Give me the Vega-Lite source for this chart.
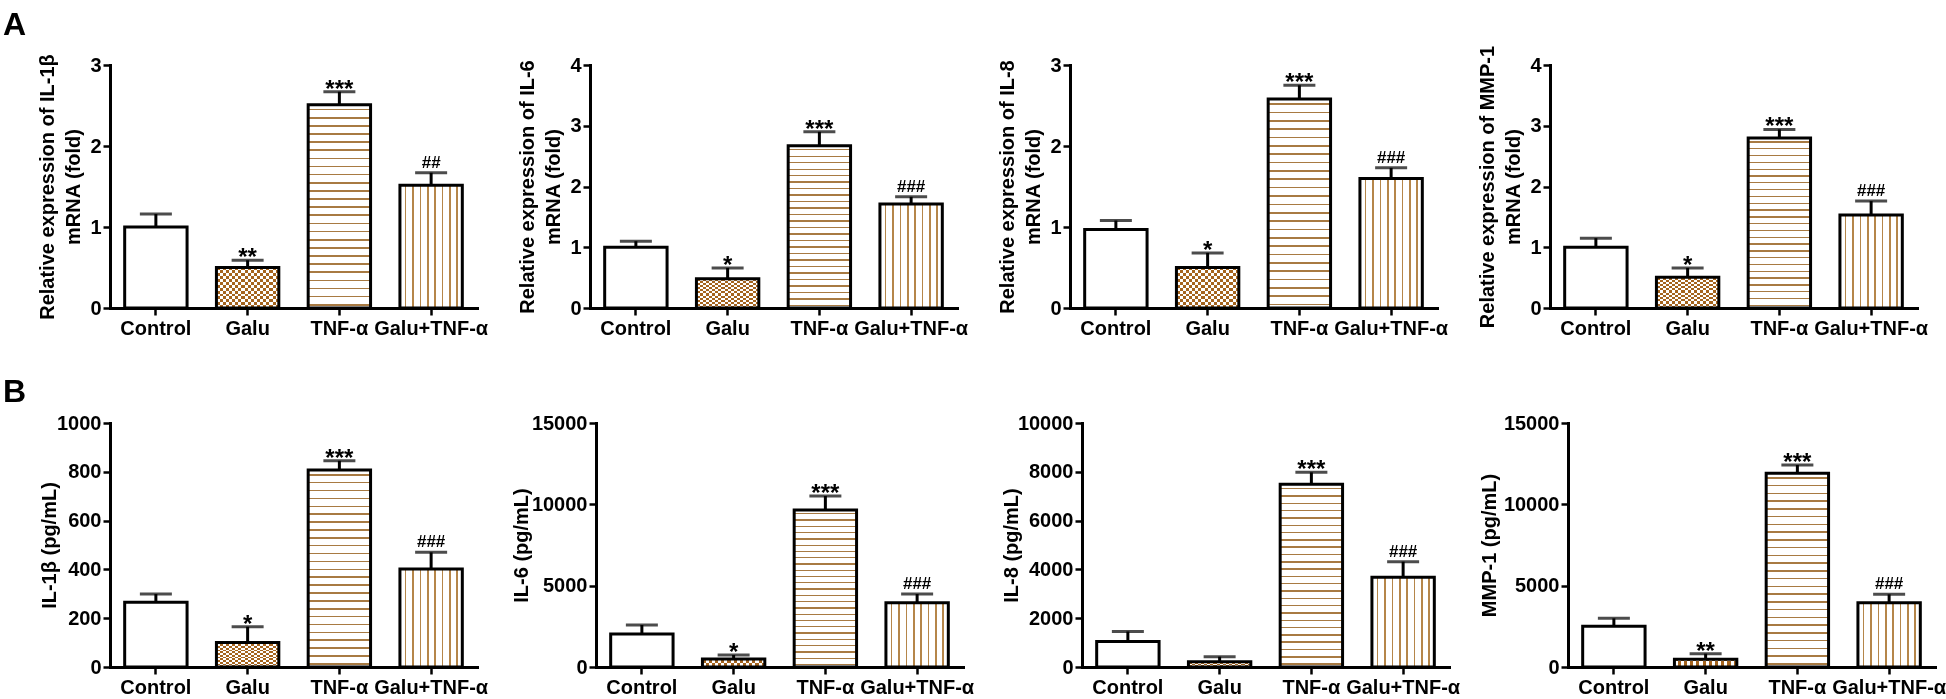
{
"$schema": "https://vega.github.io/schema/vega-lite/v6.json",
"padding": {"left": 3, "top": 8, "right": 0, "bottom": 0},
"background": "white",
"data": {"values": [
{"panel":"A1","group":"Control","mean":1.0,"upper":1.16,"sig":""},
{"panel":"A1","group":"Galu","mean":0.5,"upper":0.59,"sig":"**"},
{"panel":"A1","group":"TNF-α","mean":2.51,"upper":2.67,"sig":"***"},
{"panel":"A1","group":"Galu+TNF-α","mean":1.515,"upper":1.67,"sig":"##"},
{"panel":"A2","group":"Control","mean":1.0,"upper":1.1,"sig":""},
{"panel":"A2","group":"Galu","mean":0.48,"upper":0.66,"sig":"*"},
{"panel":"A2","group":"TNF-α","mean":2.67,"upper":2.9,"sig":"***"},
{"panel":"A2","group":"Galu+TNF-α","mean":1.71,"upper":1.83,"sig":"###"},
{"panel":"A3","group":"Control","mean":0.97,"upper":1.08,"sig":""},
{"panel":"A3","group":"Galu","mean":0.5,"upper":0.68,"sig":"*"},
{"panel":"A3","group":"TNF-α","mean":2.58,"upper":2.75,"sig":"***"},
{"panel":"A3","group":"Galu+TNF-α","mean":1.6,"upper":1.73,"sig":"###"},
{"panel":"A4","group":"Control","mean":1.0,"upper":1.15,"sig":""},
{"panel":"A4","group":"Galu","mean":0.505,"upper":0.66,"sig":"*"},
{"panel":"A4","group":"TNF-α","mean":2.8,"upper":2.94,"sig":"***"},
{"panel":"A4","group":"Galu+TNF-α","mean":1.53,"upper":1.76,"sig":"###"},
{"panel":"B1","group":"Control","mean":265,"upper":299,"sig":""},
{"panel":"B1","group":"Galu","mean":100,"upper":165,"sig":"*"},
{"panel":"B1","group":"TNF-α","mean":807,"upper":845,"sig":"***"},
{"panel":"B1","group":"Galu+TNF-α","mean":402,"upper":470,"sig":"###"},
{"panel":"B2","group":"Control","mean":2029,"upper":2582,"sig":""},
{"panel":"B2","group":"Galu","mean":492,"upper":738,"sig":"*"},
{"panel":"B2","group":"TNF-α","mean":9652,"upper":10512,"sig":"***"},
{"panel":"B2","group":"Galu+TNF-α","mean":3955,"upper":4488,"sig":"###"},
{"panel":"B3","group":"Control","mean":1045,"upper":1455,"sig":""},
{"panel":"B3","group":"Galu","mean":218,"upper":423,"sig":""},
{"panel":"B3","group":"TNF-α","mean":7486,"upper":7978,"sig":"***"},
{"panel":"B3","group":"Galu+TNF-α","mean":3674,"upper":4317,"sig":"###"},
{"panel":"B4","group":"Control","mean":2500,"upper":2992,"sig":""},
{"panel":"B4","group":"Galu","mean":473,"upper":819,"sig":"**"},
{"panel":"B4","group":"TNF-α","mean":11906,"upper":12416,"sig":"***"},
{"panel":"B4","group":"Galu+TNF-α","mean":3953,"upper":4469,"sig":"###"}
]},
"vconcat": [
{"bounds": "flush", "spacing": 113, "hconcat": [
{"width": 367, "height": 243,
 "title": {"text": "A", "anchor": "start", "frame": "group", "fontSize": 32, "fontWeight": "bold", "color": "black", "dx": -107, "offset": 12},
 "transform": [{"filter": "datum.panel === 'A1'"}],
 "encoding": {"x": {"field": "group", "type": "nominal", "title": null, "scale": {"domain": ["Control","Galu","TNF-α","Galu+TNF-α"], "paddingInner": 0.32, "paddingOuter": 0.16}, "axis": {"labelAngle": 0, "bandPosition": 0.5, "labelPadding": 3}},
  "y": {"field": "mean", "type": "quantitative", "scale": {"domain": [0, 3], "nice": false}, "axis": {"values": [0,1,2,3], "format": "d", "title": ["Relative expression of IL-1β", "mRNA (fold)"], "titlePadding": 6}}},
 "layer": [
  {"mark": {"type": "bar", "fill": "white"}},
  {"transform": [{"filter": "datum.group === 'TNF-α'"}], "mark": {"type": "bar", "style": "tnf"}},
  {"transform": [{"filter": "datum.group === 'Galu+TNF-α'"}], "mark": {"type": "bar", "style": "gt"}},
  {"transform": [{"filter": "datum.group === 'Galu'"}], "mark": {"type": "bar", "style": "chkH"}},
  {"transform": [{"filter": "datum.group === 'Galu'"}], "mark": {"type": "bar", "style": "chkV", "blend": "difference"}},
  {"transform": [{"filter": "datum.group === 'Galu'"}], "mark": {"type": "bar", "fill": "#A5641E", "blend": "lighten"}},
  {"mark": {"type": "bar", "fillOpacity": 0, "stroke": "black", "strokeWidth": 3}},
  {"mark": {"type": "rule", "strokeWidth": 3, "color": "black"}, "encoding": {"y2": {"field": "upper"}}},
  {"mark": {"type": "tick", "orient": "horizontal", "size": 32, "thickness": 3, "color": "black"}, "encoding": {"y": {"field": "upper", "type": "quantitative", "scale": {"domain": [0, 3], "nice": false}, "axis": {"values": [0,1,2,3], "format": "d", "title": ["Relative expression of IL-1β", "mRNA (fold)"], "titlePadding": 6}}}},
  {"transform": [{"filter": "indexof(datum.sig, '*') >= 0"}], "mark": {"type": "text", "baseline": "alphabetic", "dy": 5, "fontSize": 24, "fontWeight": "bold", "color": "black"}, "encoding": {"y": {"field": "upper", "type": "quantitative", "scale": {"domain": [0, 3], "nice": false}, "axis": {"values": [0,1,2,3], "format": "d", "title": ["Relative expression of IL-1β", "mRNA (fold)"], "titlePadding": 6}}, "text": {"field": "sig"}}},
  {"transform": [{"filter": "indexof(datum.sig, '#') >= 0"}], "mark": {"type": "text", "baseline": "alphabetic", "dy": -5, "fontSize": 17, "fontWeight": "bold", "color": "black"}, "encoding": {"y": {"field": "upper", "type": "quantitative", "scale": {"domain": [0, 3], "nice": false}, "axis": {"values": [0,1,2,3], "format": "d", "title": ["Relative expression of IL-1β", "mRNA (fold)"], "titlePadding": 6}}, "text": {"field": "sig"}}}
 ]},
{"width": 367, "height": 243,
 "transform": [{"filter": "datum.panel === 'A2'"}],
 "encoding": {"x": {"field": "group", "type": "nominal", "title": null, "scale": {"domain": ["Control","Galu","TNF-α","Galu+TNF-α"], "paddingInner": 0.32, "paddingOuter": 0.16}, "axis": {"labelAngle": 0, "bandPosition": 0.5, "labelPadding": 3}},
  "y": {"field": "mean", "type": "quantitative", "scale": {"domain": [0, 4], "nice": false}, "axis": {"values": [0,1,2,3,4], "format": "d", "title": ["Relative expression of IL-6", "mRNA (fold)"], "titlePadding": 6}}},
 "layer": [
  {"mark": {"type": "bar", "fill": "white"}},
  {"transform": [{"filter": "datum.group === 'TNF-α'"}], "mark": {"type": "bar", "style": "tnf"}},
  {"transform": [{"filter": "datum.group === 'Galu+TNF-α'"}], "mark": {"type": "bar", "style": "gt"}},
  {"transform": [{"filter": "datum.group === 'Galu'"}], "mark": {"type": "bar", "style": "chkH"}},
  {"transform": [{"filter": "datum.group === 'Galu'"}], "mark": {"type": "bar", "style": "chkV", "blend": "difference"}},
  {"transform": [{"filter": "datum.group === 'Galu'"}], "mark": {"type": "bar", "fill": "#A5641E", "blend": "lighten"}},
  {"mark": {"type": "bar", "fillOpacity": 0, "stroke": "black", "strokeWidth": 3}},
  {"mark": {"type": "rule", "strokeWidth": 3, "color": "black"}, "encoding": {"y2": {"field": "upper"}}},
  {"mark": {"type": "tick", "orient": "horizontal", "size": 32, "thickness": 3, "color": "black"}, "encoding": {"y": {"field": "upper", "type": "quantitative", "scale": {"domain": [0, 4], "nice": false}, "axis": {"values": [0,1,2,3,4], "format": "d", "title": ["Relative expression of IL-6", "mRNA (fold)"], "titlePadding": 6}}}},
  {"transform": [{"filter": "indexof(datum.sig, '*') >= 0"}], "mark": {"type": "text", "baseline": "alphabetic", "dy": 5, "fontSize": 24, "fontWeight": "bold", "color": "black"}, "encoding": {"y": {"field": "upper", "type": "quantitative", "scale": {"domain": [0, 4], "nice": false}, "axis": {"values": [0,1,2,3,4], "format": "d", "title": ["Relative expression of IL-6", "mRNA (fold)"], "titlePadding": 6}}, "text": {"field": "sig"}}},
  {"transform": [{"filter": "indexof(datum.sig, '#') >= 0"}], "mark": {"type": "text", "baseline": "alphabetic", "dy": -5, "fontSize": 17, "fontWeight": "bold", "color": "black"}, "encoding": {"y": {"field": "upper", "type": "quantitative", "scale": {"domain": [0, 4], "nice": false}, "axis": {"values": [0,1,2,3,4], "format": "d", "title": ["Relative expression of IL-6", "mRNA (fold)"], "titlePadding": 6}}, "text": {"field": "sig"}}}
 ]},
{"width": 367, "height": 243,
 "transform": [{"filter": "datum.panel === 'A3'"}],
 "encoding": {"x": {"field": "group", "type": "nominal", "title": null, "scale": {"domain": ["Control","Galu","TNF-α","Galu+TNF-α"], "paddingInner": 0.32, "paddingOuter": 0.16}, "axis": {"labelAngle": 0, "bandPosition": 0.5, "labelPadding": 3}},
  "y": {"field": "mean", "type": "quantitative", "scale": {"domain": [0, 3], "nice": false}, "axis": {"values": [0,1,2,3], "format": "d", "title": ["Relative expression of IL-8", "mRNA (fold)"], "titlePadding": 6}}},
 "layer": [
  {"mark": {"type": "bar", "fill": "white"}},
  {"transform": [{"filter": "datum.group === 'TNF-α'"}], "mark": {"type": "bar", "style": "tnf"}},
  {"transform": [{"filter": "datum.group === 'Galu+TNF-α'"}], "mark": {"type": "bar", "style": "gt"}},
  {"transform": [{"filter": "datum.group === 'Galu'"}], "mark": {"type": "bar", "style": "chkH"}},
  {"transform": [{"filter": "datum.group === 'Galu'"}], "mark": {"type": "bar", "style": "chkV", "blend": "difference"}},
  {"transform": [{"filter": "datum.group === 'Galu'"}], "mark": {"type": "bar", "fill": "#A5641E", "blend": "lighten"}},
  {"mark": {"type": "bar", "fillOpacity": 0, "stroke": "black", "strokeWidth": 3}},
  {"mark": {"type": "rule", "strokeWidth": 3, "color": "black"}, "encoding": {"y2": {"field": "upper"}}},
  {"mark": {"type": "tick", "orient": "horizontal", "size": 32, "thickness": 3, "color": "black"}, "encoding": {"y": {"field": "upper", "type": "quantitative", "scale": {"domain": [0, 3], "nice": false}, "axis": {"values": [0,1,2,3], "format": "d", "title": ["Relative expression of IL-8", "mRNA (fold)"], "titlePadding": 6}}}},
  {"transform": [{"filter": "indexof(datum.sig, '*') >= 0"}], "mark": {"type": "text", "baseline": "alphabetic", "dy": 5, "fontSize": 24, "fontWeight": "bold", "color": "black"}, "encoding": {"y": {"field": "upper", "type": "quantitative", "scale": {"domain": [0, 3], "nice": false}, "axis": {"values": [0,1,2,3], "format": "d", "title": ["Relative expression of IL-8", "mRNA (fold)"], "titlePadding": 6}}, "text": {"field": "sig"}}},
  {"transform": [{"filter": "indexof(datum.sig, '#') >= 0"}], "mark": {"type": "text", "baseline": "alphabetic", "dy": -5, "fontSize": 17, "fontWeight": "bold", "color": "black"}, "encoding": {"y": {"field": "upper", "type": "quantitative", "scale": {"domain": [0, 3], "nice": false}, "axis": {"values": [0,1,2,3], "format": "d", "title": ["Relative expression of IL-8", "mRNA (fold)"], "titlePadding": 6}}, "text": {"field": "sig"}}}
 ]},
{"width": 367, "height": 243,
 "transform": [{"filter": "datum.panel === 'A4'"}],
 "encoding": {"x": {"field": "group", "type": "nominal", "title": null, "scale": {"domain": ["Control","Galu","TNF-α","Galu+TNF-α"], "paddingInner": 0.32, "paddingOuter": 0.16}, "axis": {"labelAngle": 0, "bandPosition": 0.5, "labelPadding": 3}},
  "y": {"field": "mean", "type": "quantitative", "scale": {"domain": [0, 4], "nice": false}, "axis": {"values": [0,1,2,3,4], "format": "d", "title": ["Relative expression of MMP-1", "mRNA (fold)"], "titlePadding": 6}}},
 "layer": [
  {"mark": {"type": "bar", "fill": "white"}},
  {"transform": [{"filter": "datum.group === 'TNF-α'"}], "mark": {"type": "bar", "style": "tnf"}},
  {"transform": [{"filter": "datum.group === 'Galu+TNF-α'"}], "mark": {"type": "bar", "style": "gt"}},
  {"transform": [{"filter": "datum.group === 'Galu'"}], "mark": {"type": "bar", "style": "chkH"}},
  {"transform": [{"filter": "datum.group === 'Galu'"}], "mark": {"type": "bar", "style": "chkV", "blend": "difference"}},
  {"transform": [{"filter": "datum.group === 'Galu'"}], "mark": {"type": "bar", "fill": "#A5641E", "blend": "lighten"}},
  {"mark": {"type": "bar", "fillOpacity": 0, "stroke": "black", "strokeWidth": 3}},
  {"mark": {"type": "rule", "strokeWidth": 3, "color": "black"}, "encoding": {"y2": {"field": "upper"}}},
  {"mark": {"type": "tick", "orient": "horizontal", "size": 32, "thickness": 3, "color": "black"}, "encoding": {"y": {"field": "upper", "type": "quantitative", "scale": {"domain": [0, 4], "nice": false}, "axis": {"values": [0,1,2,3,4], "format": "d", "title": ["Relative expression of MMP-1", "mRNA (fold)"], "titlePadding": 6}}}},
  {"transform": [{"filter": "indexof(datum.sig, '*') >= 0"}], "mark": {"type": "text", "baseline": "alphabetic", "dy": 5, "fontSize": 24, "fontWeight": "bold", "color": "black"}, "encoding": {"y": {"field": "upper", "type": "quantitative", "scale": {"domain": [0, 4], "nice": false}, "axis": {"values": [0,1,2,3,4], "format": "d", "title": ["Relative expression of MMP-1", "mRNA (fold)"], "titlePadding": 6}}, "text": {"field": "sig"}}},
  {"transform": [{"filter": "indexof(datum.sig, '#') >= 0"}], "mark": {"type": "text", "baseline": "alphabetic", "dy": -5, "fontSize": 17, "fontWeight": "bold", "color": "black"}, "encoding": {"y": {"field": "upper", "type": "quantitative", "scale": {"domain": [0, 4], "nice": false}, "axis": {"values": [0,1,2,3,4], "format": "d", "title": ["Relative expression of MMP-1", "mRNA (fold)"], "titlePadding": 6}}, "text": {"field": "sig"}}}
 ]}
]},
{"bounds": "flush", "spacing": 119, "hconcat": [
{"width": 367, "height": 244,
 "title": {"text": "B", "anchor": "start", "frame": "group", "fontSize": 32, "fontWeight": "bold", "color": "black", "dx": -107, "offset": 4},
 "transform": [{"filter": "datum.panel === 'B1'"}],
 "encoding": {"x": {"field": "group", "type": "nominal", "title": null, "scale": {"domain": ["Control","Galu","TNF-α","Galu+TNF-α"], "paddingInner": 0.32, "paddingOuter": 0.16}, "axis": {"labelAngle": 0, "bandPosition": 0.5, "labelPadding": 3}},
  "y": {"field": "mean", "type": "quantitative", "scale": {"domain": [0, 1000], "nice": false}, "axis": {"values": [0,200,400,600,800,1000], "format": "d", "title": "IL-1β (pg/mL)", "titlePadding": -3}}},
 "layer": [
  {"mark": {"type": "bar", "fill": "white"}},
  {"transform": [{"filter": "datum.group === 'TNF-α'"}], "mark": {"type": "bar", "style": "tnf"}},
  {"transform": [{"filter": "datum.group === 'Galu+TNF-α'"}], "mark": {"type": "bar", "style": "gt"}},
  {"transform": [{"filter": "datum.group === 'Galu'"}], "mark": {"type": "bar", "style": "chkH"}},
  {"transform": [{"filter": "datum.group === 'Galu'"}], "mark": {"type": "bar", "style": "chkV", "blend": "difference"}},
  {"transform": [{"filter": "datum.group === 'Galu'"}], "mark": {"type": "bar", "fill": "#A5641E", "blend": "lighten"}},
  {"mark": {"type": "bar", "fillOpacity": 0, "stroke": "black", "strokeWidth": 3}},
  {"mark": {"type": "rule", "strokeWidth": 3, "color": "black"}, "encoding": {"y2": {"field": "upper"}}},
  {"mark": {"type": "tick", "orient": "horizontal", "size": 32, "thickness": 3, "color": "black"}, "encoding": {"y": {"field": "upper", "type": "quantitative", "scale": {"domain": [0, 1000], "nice": false}, "axis": {"values": [0,200,400,600,800,1000], "format": "d", "title": "IL-1β (pg/mL)", "titlePadding": -3}}}},
  {"transform": [{"filter": "indexof(datum.sig, '*') >= 0"}], "mark": {"type": "text", "baseline": "alphabetic", "dy": 5, "fontSize": 24, "fontWeight": "bold", "color": "black"}, "encoding": {"y": {"field": "upper", "type": "quantitative", "scale": {"domain": [0, 1000], "nice": false}, "axis": {"values": [0,200,400,600,800,1000], "format": "d", "title": "IL-1β (pg/mL)", "titlePadding": -3}}, "text": {"field": "sig"}}},
  {"transform": [{"filter": "indexof(datum.sig, '#') >= 0"}], "mark": {"type": "text", "baseline": "alphabetic", "dy": -5, "fontSize": 17, "fontWeight": "bold", "color": "black"}, "encoding": {"y": {"field": "upper", "type": "quantitative", "scale": {"domain": [0, 1000], "nice": false}, "axis": {"values": [0,200,400,600,800,1000], "format": "d", "title": "IL-1β (pg/mL)", "titlePadding": -3}}, "text": {"field": "sig"}}}
 ]},
{"width": 367, "height": 244,
 "transform": [{"filter": "datum.panel === 'B2'"}],
 "encoding": {"x": {"field": "group", "type": "nominal", "title": null, "scale": {"domain": ["Control","Galu","TNF-α","Galu+TNF-α"], "paddingInner": 0.32, "paddingOuter": 0.16}, "axis": {"labelAngle": 0, "bandPosition": 0.5, "labelPadding": 3}},
  "y": {"field": "mean", "type": "quantitative", "scale": {"domain": [0, 15000], "nice": false}, "axis": {"values": [0,5000,10000,15000], "format": "d", "title": "IL-6 (pg/mL)", "titlePadding": 0}}},
 "layer": [
  {"mark": {"type": "bar", "fill": "white"}},
  {"transform": [{"filter": "datum.group === 'TNF-α'"}], "mark": {"type": "bar", "style": "tnf"}},
  {"transform": [{"filter": "datum.group === 'Galu+TNF-α'"}], "mark": {"type": "bar", "style": "gt"}},
  {"transform": [{"filter": "datum.group === 'Galu'"}], "mark": {"type": "bar", "style": "chkH"}},
  {"transform": [{"filter": "datum.group === 'Galu'"}], "mark": {"type": "bar", "style": "chkV", "blend": "difference"}},
  {"transform": [{"filter": "datum.group === 'Galu'"}], "mark": {"type": "bar", "fill": "#A5641E", "blend": "lighten"}},
  {"mark": {"type": "bar", "fillOpacity": 0, "stroke": "black", "strokeWidth": 3}},
  {"mark": {"type": "rule", "strokeWidth": 3, "color": "black"}, "encoding": {"y2": {"field": "upper"}}},
  {"mark": {"type": "tick", "orient": "horizontal", "size": 32, "thickness": 3, "color": "black"}, "encoding": {"y": {"field": "upper", "type": "quantitative", "scale": {"domain": [0, 15000], "nice": false}, "axis": {"values": [0,5000,10000,15000], "format": "d", "title": "IL-6 (pg/mL)", "titlePadding": 0}}}},
  {"transform": [{"filter": "indexof(datum.sig, '*') >= 0"}], "mark": {"type": "text", "baseline": "alphabetic", "dy": 5, "fontSize": 24, "fontWeight": "bold", "color": "black"}, "encoding": {"y": {"field": "upper", "type": "quantitative", "scale": {"domain": [0, 15000], "nice": false}, "axis": {"values": [0,5000,10000,15000], "format": "d", "title": "IL-6 (pg/mL)", "titlePadding": 0}}, "text": {"field": "sig"}}},
  {"transform": [{"filter": "indexof(datum.sig, '#') >= 0"}], "mark": {"type": "text", "baseline": "alphabetic", "dy": -5, "fontSize": 17, "fontWeight": "bold", "color": "black"}, "encoding": {"y": {"field": "upper", "type": "quantitative", "scale": {"domain": [0, 15000], "nice": false}, "axis": {"values": [0,5000,10000,15000], "format": "d", "title": "IL-6 (pg/mL)", "titlePadding": 0}}, "text": {"field": "sig"}}}
 ]},
{"width": 367, "height": 244,
 "transform": [{"filter": "datum.panel === 'B3'"}],
 "encoding": {"x": {"field": "group", "type": "nominal", "title": null, "scale": {"domain": ["Control","Galu","TNF-α","Galu+TNF-α"], "paddingInner": 0.32, "paddingOuter": 0.16}, "axis": {"labelAngle": 0, "bandPosition": 0.5, "labelPadding": 3}},
  "y": {"field": "mean", "type": "quantitative", "scale": {"domain": [0, 10000], "nice": false}, "axis": {"values": [0,2000,4000,6000,8000,10000], "format": "d", "title": "IL-8 (pg/mL)", "titlePadding": -4}}},
 "layer": [
  {"mark": {"type": "bar", "fill": "white"}},
  {"transform": [{"filter": "datum.group === 'TNF-α'"}], "mark": {"type": "bar", "style": "tnf"}},
  {"transform": [{"filter": "datum.group === 'Galu+TNF-α'"}], "mark": {"type": "bar", "style": "gt"}},
  {"transform": [{"filter": "datum.group === 'Galu'"}], "mark": {"type": "bar", "style": "chkH"}},
  {"transform": [{"filter": "datum.group === 'Galu'"}], "mark": {"type": "bar", "style": "chkV", "blend": "difference"}},
  {"transform": [{"filter": "datum.group === 'Galu'"}], "mark": {"type": "bar", "fill": "#A5641E", "blend": "lighten"}},
  {"mark": {"type": "bar", "fillOpacity": 0, "stroke": "black", "strokeWidth": 3}},
  {"mark": {"type": "rule", "strokeWidth": 3, "color": "black"}, "encoding": {"y2": {"field": "upper"}}},
  {"mark": {"type": "tick", "orient": "horizontal", "size": 32, "thickness": 3, "color": "black"}, "encoding": {"y": {"field": "upper", "type": "quantitative", "scale": {"domain": [0, 10000], "nice": false}, "axis": {"values": [0,2000,4000,6000,8000,10000], "format": "d", "title": "IL-8 (pg/mL)", "titlePadding": -4}}}},
  {"transform": [{"filter": "indexof(datum.sig, '*') >= 0"}], "mark": {"type": "text", "baseline": "alphabetic", "dy": 5, "fontSize": 24, "fontWeight": "bold", "color": "black"}, "encoding": {"y": {"field": "upper", "type": "quantitative", "scale": {"domain": [0, 10000], "nice": false}, "axis": {"values": [0,2000,4000,6000,8000,10000], "format": "d", "title": "IL-8 (pg/mL)", "titlePadding": -4}}, "text": {"field": "sig"}}},
  {"transform": [{"filter": "indexof(datum.sig, '#') >= 0"}], "mark": {"type": "text", "baseline": "alphabetic", "dy": -5, "fontSize": 17, "fontWeight": "bold", "color": "black"}, "encoding": {"y": {"field": "upper", "type": "quantitative", "scale": {"domain": [0, 10000], "nice": false}, "axis": {"values": [0,2000,4000,6000,8000,10000], "format": "d", "title": "IL-8 (pg/mL)", "titlePadding": -4}}, "text": {"field": "sig"}}}
 ]},
{"width": 367, "height": 244,
 "transform": [{"filter": "datum.panel === 'B4'"}],
 "encoding": {"x": {"field": "group", "type": "nominal", "title": null, "scale": {"domain": ["Control","Galu","TNF-α","Galu+TNF-α"], "paddingInner": 0.32, "paddingOuter": 0.16}, "axis": {"labelAngle": 0, "bandPosition": 0.5, "labelPadding": 3}},
  "y": {"field": "mean", "type": "quantitative", "scale": {"domain": [0, 15000], "nice": false}, "axis": {"values": [0,5000,10000,15000], "format": "d", "title": "MMP-1 (pg/mL)", "titlePadding": 4}}},
 "layer": [
  {"mark": {"type": "bar", "fill": "white"}},
  {"transform": [{"filter": "datum.group === 'TNF-α'"}], "mark": {"type": "bar", "style": "tnf"}},
  {"transform": [{"filter": "datum.group === 'Galu+TNF-α'"}], "mark": {"type": "bar", "style": "gt"}},
  {"transform": [{"filter": "datum.group === 'Galu'"}], "mark": {"type": "bar", "style": "chkH"}},
  {"transform": [{"filter": "datum.group === 'Galu'"}], "mark": {"type": "bar", "style": "chkV", "blend": "difference"}},
  {"transform": [{"filter": "datum.group === 'Galu'"}], "mark": {"type": "bar", "fill": "#A5641E", "blend": "lighten"}},
  {"mark": {"type": "bar", "fillOpacity": 0, "stroke": "black", "strokeWidth": 3}},
  {"mark": {"type": "rule", "strokeWidth": 3, "color": "black"}, "encoding": {"y2": {"field": "upper"}}},
  {"mark": {"type": "tick", "orient": "horizontal", "size": 32, "thickness": 3, "color": "black"}, "encoding": {"y": {"field": "upper", "type": "quantitative", "scale": {"domain": [0, 15000], "nice": false}, "axis": {"values": [0,5000,10000,15000], "format": "d", "title": "MMP-1 (pg/mL)", "titlePadding": 4}}}},
  {"transform": [{"filter": "indexof(datum.sig, '*') >= 0"}], "mark": {"type": "text", "baseline": "alphabetic", "dy": 5, "fontSize": 24, "fontWeight": "bold", "color": "black"}, "encoding": {"y": {"field": "upper", "type": "quantitative", "scale": {"domain": [0, 15000], "nice": false}, "axis": {"values": [0,5000,10000,15000], "format": "d", "title": "MMP-1 (pg/mL)", "titlePadding": 4}}, "text": {"field": "sig"}}},
  {"transform": [{"filter": "indexof(datum.sig, '#') >= 0"}], "mark": {"type": "text", "baseline": "alphabetic", "dy": -5, "fontSize": 17, "fontWeight": "bold", "color": "black"}, "encoding": {"y": {"field": "upper", "type": "quantitative", "scale": {"domain": [0, 15000], "nice": false}, "axis": {"values": [0,5000,10000,15000], "format": "d", "title": "MMP-1 (pg/mL)", "titlePadding": 4}}, "text": {"field": "sig"}}}
 ]}
]}
],
"spacing": 38,
"config": {
 "font": "Liberation Sans",
 "view": {"stroke": null},
 "axis": {"domainColor": "#000", "domainWidth": 3, "domainCap": "square", "tickColor": "#000", "tickWidth": 2.5, "tickSize": 7, "labelColor": "#000", "labelFont": "Liberation Sans", "labelFontSize": 20, "labelFontWeight": "bold", "labelPadding": 2, "titleColor": "#000", "titleFont": "Liberation Sans", "titleFontSize": 20, "titleFontWeight": "bold", "titleLineHeight": 26, "grid": false},
 "axisY": {"labelFlush": false},
 "style": {
  "tnf": {"color": {"gradient": "linear", "x1": 0, "y1": 0, "x2": 0, "y2": 1, "stops": [
   {"offset": 0, "color": "#ffffff"},
   {"offset": 0.02, "color": "#ffffff"}, {"offset": 0.02, "color": "#A87A42"}, {"offset": 0.028, "color": "#A87A42"}, {"offset": 0.028, "color": "#ffffff"},
   {"offset": 0.06, "color": "#ffffff"}, {"offset": 0.06, "color": "#A87A42"}, {"offset": 0.068, "color": "#A87A42"}, {"offset": 0.068, "color": "#ffffff"},
   {"offset": 0.10, "color": "#ffffff"}, {"offset": 0.10, "color": "#A87A42"}, {"offset": 0.108, "color": "#A87A42"}, {"offset": 0.108, "color": "#ffffff"},
   {"offset": 0.14, "color": "#ffffff"}, {"offset": 0.14, "color": "#A87A42"}, {"offset": 0.148, "color": "#A87A42"}, {"offset": 0.148, "color": "#ffffff"},
   {"offset": 0.18, "color": "#ffffff"}, {"offset": 0.18, "color": "#A87A42"}, {"offset": 0.188, "color": "#A87A42"}, {"offset": 0.188, "color": "#ffffff"},
   {"offset": 0.22, "color": "#ffffff"}, {"offset": 0.22, "color": "#A87A42"}, {"offset": 0.228, "color": "#A87A42"}, {"offset": 0.228, "color": "#ffffff"},
   {"offset": 0.26, "color": "#ffffff"}, {"offset": 0.26, "color": "#A87A42"}, {"offset": 0.268, "color": "#A87A42"}, {"offset": 0.268, "color": "#ffffff"},
   {"offset": 0.30, "color": "#ffffff"}, {"offset": 0.30, "color": "#A87A42"}, {"offset": 0.308, "color": "#A87A42"}, {"offset": 0.308, "color": "#ffffff"},
   {"offset": 0.34, "color": "#ffffff"}, {"offset": 0.34, "color": "#A87A42"}, {"offset": 0.348, "color": "#A87A42"}, {"offset": 0.348, "color": "#ffffff"},
   {"offset": 0.38, "color": "#ffffff"}, {"offset": 0.38, "color": "#A87A42"}, {"offset": 0.388, "color": "#A87A42"}, {"offset": 0.388, "color": "#ffffff"},
   {"offset": 0.42, "color": "#ffffff"}, {"offset": 0.42, "color": "#A87A42"}, {"offset": 0.428, "color": "#A87A42"}, {"offset": 0.428, "color": "#ffffff"},
   {"offset": 0.46, "color": "#ffffff"}, {"offset": 0.46, "color": "#A87A42"}, {"offset": 0.468, "color": "#A87A42"}, {"offset": 0.468, "color": "#ffffff"},
   {"offset": 0.50, "color": "#ffffff"}, {"offset": 0.50, "color": "#A87A42"}, {"offset": 0.508, "color": "#A87A42"}, {"offset": 0.508, "color": "#ffffff"},
   {"offset": 0.54, "color": "#ffffff"}, {"offset": 0.54, "color": "#A87A42"}, {"offset": 0.548, "color": "#A87A42"}, {"offset": 0.548, "color": "#ffffff"},
   {"offset": 0.58, "color": "#ffffff"}, {"offset": 0.58, "color": "#A87A42"}, {"offset": 0.588, "color": "#A87A42"}, {"offset": 0.588, "color": "#ffffff"},
   {"offset": 0.62, "color": "#ffffff"}, {"offset": 0.62, "color": "#A87A42"}, {"offset": 0.628, "color": "#A87A42"}, {"offset": 0.628, "color": "#ffffff"},
   {"offset": 0.66, "color": "#ffffff"}, {"offset": 0.66, "color": "#A87A42"}, {"offset": 0.668, "color": "#A87A42"}, {"offset": 0.668, "color": "#ffffff"},
   {"offset": 0.70, "color": "#ffffff"}, {"offset": 0.70, "color": "#A87A42"}, {"offset": 0.708, "color": "#A87A42"}, {"offset": 0.708, "color": "#ffffff"},
   {"offset": 0.74, "color": "#ffffff"}, {"offset": 0.74, "color": "#A87A42"}, {"offset": 0.748, "color": "#A87A42"}, {"offset": 0.748, "color": "#ffffff"},
   {"offset": 0.78, "color": "#ffffff"}, {"offset": 0.78, "color": "#A87A42"}, {"offset": 0.788, "color": "#A87A42"}, {"offset": 0.788, "color": "#ffffff"},
   {"offset": 0.82, "color": "#ffffff"}, {"offset": 0.82, "color": "#A87A42"}, {"offset": 0.828, "color": "#A87A42"}, {"offset": 0.828, "color": "#ffffff"},
   {"offset": 0.86, "color": "#ffffff"}, {"offset": 0.86, "color": "#A87A42"}, {"offset": 0.868, "color": "#A87A42"}, {"offset": 0.868, "color": "#ffffff"},
   {"offset": 0.90, "color": "#ffffff"}, {"offset": 0.90, "color": "#A87A42"}, {"offset": 0.908, "color": "#A87A42"}, {"offset": 0.908, "color": "#ffffff"},
   {"offset": 0.94, "color": "#ffffff"}, {"offset": 0.94, "color": "#A87A42"}, {"offset": 0.948, "color": "#A87A42"}, {"offset": 0.948, "color": "#ffffff"},
   {"offset": 0.98, "color": "#ffffff"}, {"offset": 0.98, "color": "#A87A42"}, {"offset": 0.988, "color": "#A87A42"}, {"offset": 0.988, "color": "#ffffff"},
   {"offset": 1, "color": "#ffffff"}]}},
  "gt": {"color": {"gradient": "linear", "x1": 0, "y1": 0, "x2": 1, "y2": 0, "stops": [
   {"offset": 0, "color": "#ffffff"},
   {"offset": 0.08, "color": "#ffffff"}, {"offset": 0.08, "color": "#B5864A"}, {"offset": 0.105, "color": "#B5864A"}, {"offset": 0.105, "color": "#ffffff"},
   {"offset": 0.198, "color": "#ffffff"}, {"offset": 0.198, "color": "#B5864A"}, {"offset": 0.223, "color": "#B5864A"}, {"offset": 0.223, "color": "#ffffff"},
   {"offset": 0.316, "color": "#ffffff"}, {"offset": 0.316, "color": "#B5864A"}, {"offset": 0.341, "color": "#B5864A"}, {"offset": 0.341, "color": "#ffffff"},
   {"offset": 0.434, "color": "#ffffff"}, {"offset": 0.434, "color": "#B5864A"}, {"offset": 0.459, "color": "#B5864A"}, {"offset": 0.459, "color": "#ffffff"},
   {"offset": 0.552, "color": "#ffffff"}, {"offset": 0.552, "color": "#B5864A"}, {"offset": 0.577, "color": "#B5864A"}, {"offset": 0.577, "color": "#ffffff"},
   {"offset": 0.67, "color": "#ffffff"}, {"offset": 0.67, "color": "#B5864A"}, {"offset": 0.695, "color": "#B5864A"}, {"offset": 0.695, "color": "#ffffff"},
   {"offset": 0.788, "color": "#ffffff"}, {"offset": 0.788, "color": "#B5864A"}, {"offset": 0.813, "color": "#B5864A"}, {"offset": 0.813, "color": "#ffffff"},
   {"offset": 0.906, "color": "#ffffff"}, {"offset": 0.906, "color": "#B5864A"}, {"offset": 0.931, "color": "#B5864A"}, {"offset": 0.931, "color": "#ffffff"},
   {"offset": 1, "color": "#ffffff"}]}},
  "chkH": {"color": {"gradient": "linear", "x1": 0, "y1": 0, "x2": 0, "y2": 1, "stops": [
   {"offset": 0, "color": "#ffffff"}, {"offset": 0.0714, "color": "#ffffff"}, {"offset": 0.0714, "color": "#000000"}, {"offset": 0.1429, "color": "#000000"},
   {"offset": 0.1429, "color": "#ffffff"}, {"offset": 0.2143, "color": "#ffffff"}, {"offset": 0.2143, "color": "#000000"}, {"offset": 0.2857, "color": "#000000"},
   {"offset": 0.2857, "color": "#ffffff"}, {"offset": 0.3571, "color": "#ffffff"}, {"offset": 0.3571, "color": "#000000"}, {"offset": 0.4286, "color": "#000000"},
   {"offset": 0.4286, "color": "#ffffff"}, {"offset": 0.5, "color": "#ffffff"}, {"offset": 0.5, "color": "#000000"}, {"offset": 0.5714, "color": "#000000"},
   {"offset": 0.5714, "color": "#ffffff"}, {"offset": 0.6429, "color": "#ffffff"}, {"offset": 0.6429, "color": "#000000"}, {"offset": 0.7143, "color": "#000000"},
   {"offset": 0.7143, "color": "#ffffff"}, {"offset": 0.7857, "color": "#ffffff"}, {"offset": 0.7857, "color": "#000000"}, {"offset": 0.8571, "color": "#000000"},
   {"offset": 0.8571, "color": "#ffffff"}, {"offset": 0.9286, "color": "#ffffff"}, {"offset": 0.9286, "color": "#000000"}, {"offset": 1, "color": "#000000"}]}},
  "chkV": {"color": {"gradient": "linear", "x1": 0, "y1": 0, "x2": 1, "y2": 0, "stops": [
   {"offset": 0, "color": "#ffffff"}, {"offset": 0.05, "color": "#ffffff"}, {"offset": 0.05, "color": "#000000"}, {"offset": 0.1, "color": "#000000"},
   {"offset": 0.1, "color": "#ffffff"}, {"offset": 0.15, "color": "#ffffff"}, {"offset": 0.15, "color": "#000000"}, {"offset": 0.2, "color": "#000000"},
   {"offset": 0.2, "color": "#ffffff"}, {"offset": 0.25, "color": "#ffffff"}, {"offset": 0.25, "color": "#000000"}, {"offset": 0.3, "color": "#000000"},
   {"offset": 0.3, "color": "#ffffff"}, {"offset": 0.35, "color": "#ffffff"}, {"offset": 0.35, "color": "#000000"}, {"offset": 0.4, "color": "#000000"},
   {"offset": 0.4, "color": "#ffffff"}, {"offset": 0.45, "color": "#ffffff"}, {"offset": 0.45, "color": "#000000"}, {"offset": 0.5, "color": "#000000"},
   {"offset": 0.5, "color": "#ffffff"}, {"offset": 0.55, "color": "#ffffff"}, {"offset": 0.55, "color": "#000000"}, {"offset": 0.6, "color": "#000000"},
   {"offset": 0.6, "color": "#ffffff"}, {"offset": 0.65, "color": "#ffffff"}, {"offset": 0.65, "color": "#000000"}, {"offset": 0.7, "color": "#000000"},
   {"offset": 0.7, "color": "#ffffff"}, {"offset": 0.75, "color": "#ffffff"}, {"offset": 0.75, "color": "#000000"}, {"offset": 0.8, "color": "#000000"},
   {"offset": 0.8, "color": "#ffffff"}, {"offset": 0.85, "color": "#ffffff"}, {"offset": 0.85, "color": "#000000"}, {"offset": 0.9, "color": "#000000"},
   {"offset": 0.9, "color": "#ffffff"}, {"offset": 0.95, "color": "#ffffff"}, {"offset": 0.95, "color": "#000000"}, {"offset": 1, "color": "#000000"}]}}
 }
}
}
